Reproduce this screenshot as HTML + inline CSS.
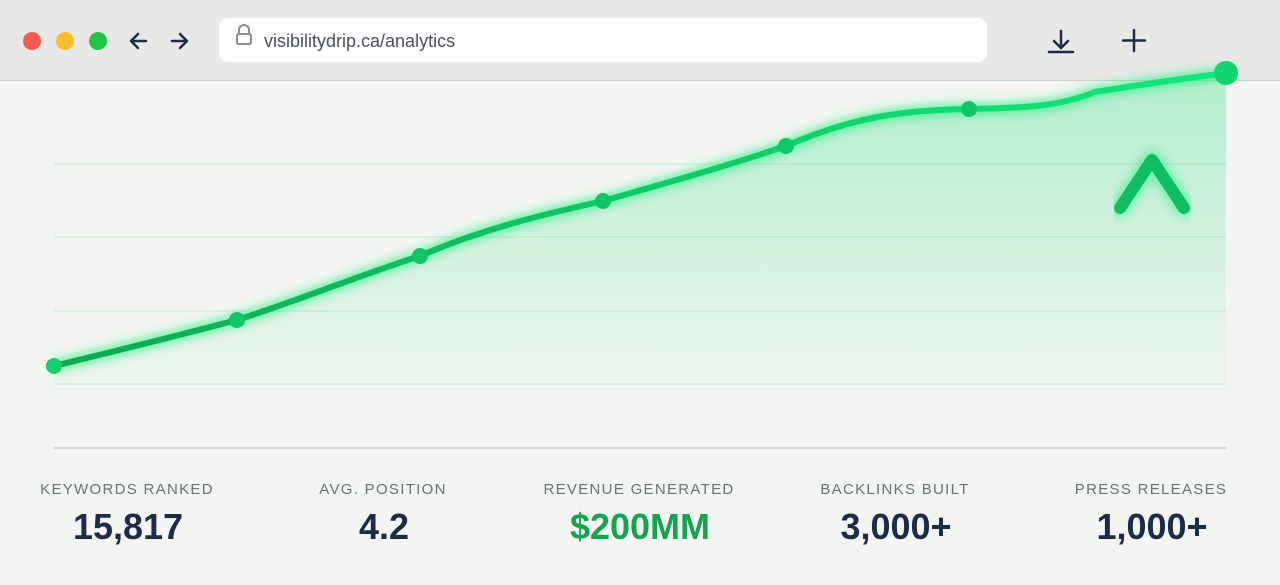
<!DOCTYPE html>
<html><head><style>
body{margin:0;width:1280px;height:585px;background:#f3f5f2;font-family:"Liberation Sans",sans-serif;overflow:hidden;position:relative}
.hdr{position:absolute;left:0;top:0;width:1280px;height:80px;background:#e8e9e7;border-bottom:1px solid #cfd1cf}
.dot{position:absolute;top:32px;width:18px;height:18px;border-radius:50%}
.url{position:absolute;left:219px;top:18px;width:768px;height:44px;background:#fff;border-radius:9px}
.url span{position:absolute;left:45px;top:13px;font-size:18px;color:#4a4f5a}
.st{position:absolute;width:256px;text-align:center}
.lb{position:absolute;top:481px;font-size:15px;letter-spacing:1.3px;color:#6b7079}
.vl{position:absolute;top:506px;font-size:36px;font-weight:bold;color:#1e2b45}
</style></head><body>
<div class="hdr">
<div class="dot" style="left:23px;background:#f45a55"></div>
<div class="dot" style="left:56px;background:#fbbc2c"></div>
<div class="dot" style="left:89px;background:#22c443"></div>
<svg style="position:absolute;left:128px;top:30px" width="70" height="22" fill="none" stroke="#1e2b45" stroke-width="2.5" stroke-linecap="round" stroke-linejoin="round">
<path d="M18 11H3M10 4L3 11L10 18"/><path d="M44 11H59M52 4L59 11L52 18"/></svg>
<div class="url"><svg style="position:absolute;left:16px;top:5px" width="18" height="24" fill="none" stroke="#8a8d93" stroke-width="2"><path d="M4 11V7a5 5 0 0 1 10 0v4"/><rect x="2" y="11" width="14" height="10" rx="2"/></svg><span>visibilitydrip.ca/analytics</span></div>
<svg style="position:absolute;left:1045px;top:28px" width="110" height="28" fill="none" stroke="#1e2b45" stroke-width="2.5" stroke-linecap="round" stroke-linejoin="round">
<path d="M16 3V20M9 13L16 20L23 13M4 24H28"/><path d="M89 2V23M78 12.5H100"/></svg>
</div>
<svg style="position:absolute;left:0;top:0" width="1280" height="585">
<defs>
<linearGradient id="f" x1="0" y1="0" x2="0" y2="1"><stop offset="0" stop-color="#3be08a" stop-opacity=".35"/><stop offset="1" stop-color="#3be08a" stop-opacity=".03"/></linearGradient>
<linearGradient id="l" x1="0" y1="0" x2="1" y2="0"><stop offset="0" stop-color="#0fa854"/><stop offset="1" stop-color="#12e879"/></linearGradient>
<filter id="g" x="-10%" y="-50%" width="120%" height="200%"><feGaussianBlur stdDeviation="5"/></filter>
</defs>
<g stroke="#d6ece0" stroke-width="1.5"><line x1="54" y1="164" x2="1226" y2="164"/><line x1="54" y1="237" x2="1226" y2="237"/><line x1="54" y1="311" x2="1226" y2="311"/><line x1="54" y1="384" x2="1226" y2="384"/></g>
<line x1="54" y1="448" x2="1226" y2="448" stroke="#cdd0cd" stroke-width="1.5"/>
<path d="M54 366C120 350 180 335 237 320C300 300 360 275 420 256C480 230 540 215 603 201C670 182 730 165 786 146C850 118 900 110 969 109C1030 108 1060 106 1095 92C1150 83 1190 78 1226 73L1226 384L54 384Z" fill="url(#f)"/>
<g filter="url(#g)" opacity=".8"><path id="p" d="M54 366C120 350 180 335 237 320C300 300 360 275 420 256C480 230 540 215 603 201C670 182 730 165 786 146C850 118 900 110 969 109C1030 108 1060 106 1095 92C1150 83 1190 78 1226 73" fill="none" stroke="#20f080" stroke-width="10"/></g>
<path d="M54 366C120 350 180 335 237 320C300 300 360 275 420 256C480 230 540 215 603 201C670 182 730 165 786 146C850 118 900 110 969 109C1030 108 1060 106 1095 92C1150 83 1190 78 1226 73" fill="none" stroke="url(#l)" stroke-width="6"/>
<g fill="#10c565"><circle cx="54" cy="366" r="8" fill="#13d06c"/><circle cx="237" cy="320" r="8"/><circle cx="420" cy="256" r="8"/><circle cx="603" cy="201" r="8"/><circle cx="786" cy="146" r="8"/><circle cx="969" cy="109" r="8"/><circle cx="1226" cy="73" r="12" fill="#13d36e"/></g>
<path d="M1120 208L1152 160L1184 208" fill="none" stroke="#20f080" stroke-width="18" stroke-linecap="round" stroke-linejoin="round" filter="url(#g)" opacity=".6"/>
<path d="M1120 208L1152 160L1184 208" fill="none" stroke="#0dbf62" stroke-width="12" stroke-linecap="round" stroke-linejoin="round"/>
</svg>
<div class="st lb" style="left:-1px">KEYWORDS RANKED</div><div class="st vl" style="left:0">15,817</div>
<div class="st lb" style="left:255px">AVG. POSITION</div><div class="st vl" style="left:256px">4.2</div>
<div class="st lb" style="left:511px">REVENUE GENERATED</div><div class="st vl" style="left:512px;color:#14a34f">$200MM</div>
<div class="st lb" style="left:767px">BACKLINKS BUILT</div><div class="st vl" style="left:768px">3,000+</div>
<div class="st lb" style="left:1023px">PRESS RELEASES</div><div class="st vl" style="left:1024px">1,000+</div>
</body></html>
